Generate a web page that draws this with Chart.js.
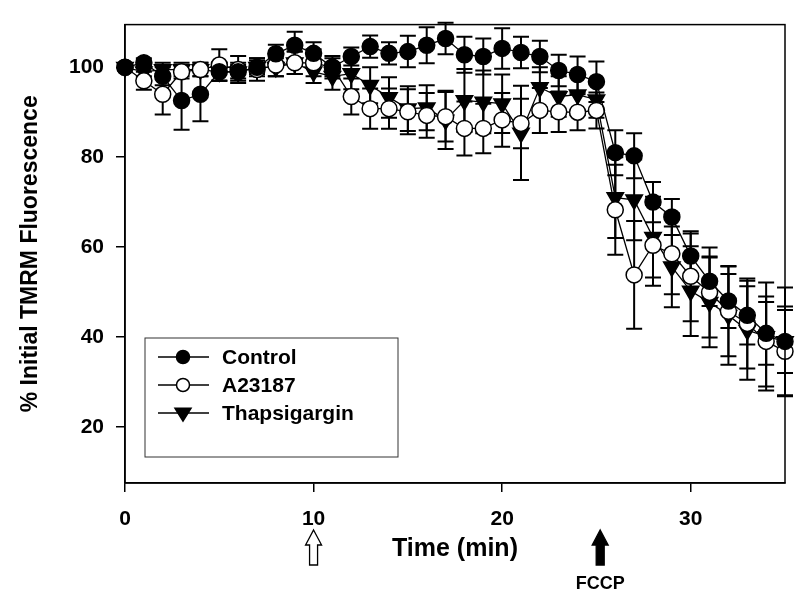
<!DOCTYPE html>
<html>
<head>
<meta charset="utf-8">
<script src="https://cdn.jsdelivr.net/npm/chart.js@4/dist/chart.umd.min.js"></script>
<style>
  body { margin: 0; background: #fff; }
  #wrap { width: 800px; height: 605px; }
</style>
</head>
<body>
<div id="wrap"><canvas id="tmrm-chart" width="800" height="605"></canvas></div>
<script>
const time = [0, 1, 2, 3, 4, 5, 6, 7, 8, 9, 10, 11, 12, 13, 14, 15, 16, 17,
    18, 19, 20, 21, 22, 23, 24, 25, 26, 27, 28, 29, 30, 31, 32, 33, 34, 35];

const control = [100, 101, 98, 92.6, 94, 99, 99, 100, 103, 104.9, 103.1, 100,
    102.4, 104.6, 103.1, 103.5, 104.9, 106.4, 102.8, 102.4, 104.2, 103.3, 102.4,
    99.3, 98.4, 96.8, 81, 80.3, 70, 66.7, 58, 52.4, 48, 44.8, 40.8, 39];
const controlErr = [0, 1, 2, 6.5, 6, 2, 1.5, 1.5, 2, 3, 2.5, 2, 2, 2.5, 2.5, 3.5,
    4, 3.5, 4, 4, 4.5, 3.5, 3.5, 3.5, 4, 4.5, 5, 5, 4.5, 4, 5, 5.5, 6, 6.5, 7, 7];

const a23187 = [100, 97, 94, 99, 99.5, 100.5, 99.5, 99.5, 100.5, 101, 101, 100,
    93.5, 90.8, 90.8, 90.1, 89.3, 89, 86.4, 86.4, 88.3, 87.5, 90.4, 90.1, 90, 90.4,
    68.3, 53.8, 60.4, 58.5, 53.5, 49.9, 45.7, 43, 39, 36.8];
const a23187Err = [0, 2, 4.5, 1.5, 1.5, 3.5, 3, 2.5, 2.5, 2.5, 3, 2.5, 4, 4.5, 4.5,
    5, 5, 5.5, 6, 5.5, 6, 5.5, 5, 4.5, 4, 4, 10, 12, 9, 9, 10, 10, 10, 10, 10, 10];

const thapsigargin = [100, 99, 99.5, 99.5, 99.5, 99, 99, 100, 100, 101, 99, 98,
    98.6, 96, 93.3, 90.8, 91, 88.3, 92.6, 92.3, 91.9, 85.4, 95.5, 93.5, 93.9, 92.8,
    71, 70.5, 62.2, 55.6, 50.2, 47.7, 44.8, 41.5, 40.1, 39];
const thapsigarginErr = [0, 1, 1.5, 1.5, 1.5, 2, 2, 2, 2, 2.5, 2.5, 3, 3.5, 4, 4.5,
    5, 5, 6.5, 7, 7, 6.5, 10.5, 4.5, 4.5, 4.5, 4, 9, 9, 9, 9, 10, 10, 11, 11, 12, 12];

const xTicks = [0, 10, 20, 30];
const yTicks = [20, 40, 60, 80, 100];

// drug additions marked with arrows under the x axis
const additionTimes = [10, 25.2];
const additionLabels = ["", "FCCP"];
const additionFilled = [false, true];

const FONT = "'Liberation Sans', Arial, sans-serif";

function toPoints(values) {
    return values.map((v, i) => ({ x: time[i], y: v }));
}

const errorBars = {
    id: "errorBars",
    beforeDatasetsDraw(chart) {
        const { ctx, scales: { x, y } } = chart;
        ctx.save();
        ctx.strokeStyle = "#000";
        ctx.lineWidth = 2;
        chart.data.datasets.forEach((ds) => {
            ds.data.forEach((p, i) => {
                const e = ds.errors[i];
                if (!e) return;
                const px = x.getPixelForValue(p.x);
                const top = y.getPixelForValue(p.y + e);
                const bot = y.getPixelForValue(p.y - e);
                ctx.beginPath();
                ctx.moveTo(px, top);
                ctx.lineTo(px, bot);
                ctx.moveTo(px - 8, top);
                ctx.lineTo(px + 8, top);
                ctx.moveTo(px - 8, bot);
                ctx.lineTo(px + 8, bot);
                ctx.stroke();
            });
        });
        ctx.restore();
    },
};

const frameAndExtras = {
    id: "frameAndExtras",
    afterDraw(chart) {
        const { ctx, chartArea: a, scales: { x } } = chart;
        ctx.save();
        ctx.strokeStyle = "#000";
        ctx.lineWidth = 1.5;
        ctx.strokeRect(a.left, a.top, a.right - a.left, a.bottom - a.top);

        // legend box
        const lx = 145, ly = 338, lw = 253, lh = 119;
        ctx.lineWidth = 1;
        ctx.strokeStyle = "#333";
        ctx.fillStyle = "#fff";
        ctx.fillRect(lx, ly, lw, lh);
        ctx.strokeRect(lx, ly, lw, lh);
        chart.data.datasets.forEach((ds, i) => {
            const cy = ly + 19 + i * 28;
            ctx.strokeStyle = "#000";
            ctx.lineWidth = 1.5;
            ctx.beginPath();
            ctx.moveTo(lx + 13, cy);
            ctx.lineTo(lx + 64, cy);
            ctx.stroke();
            ctx.fillStyle = ds.pointBackgroundColor;
            ctx.beginPath();
            if (ds.pointStyle === "circle") {
                ctx.arc(lx + 38, cy, 6.5, 0, Math.PI * 2);
            } else {
                const r = 8;
                ctx.moveTo(lx + 38 - r, cy - r * 0.6);
                ctx.lineTo(lx + 38 + r, cy - r * 0.6);
                ctx.lineTo(lx + 38, cy + r);
                ctx.closePath();
            }
            ctx.fill();
            ctx.stroke();
            ctx.fillStyle = "#000";
            ctx.font = "bold 21px " + FONT;
            ctx.textBaseline = "middle";
            ctx.textAlign = "left";
            ctx.fillText(ds.label, lx + 77, cy + 1);
        });

        // arrows for additions
        additionTimes.forEach((t, i) => {
            const px = x.getPixelForValue(t);
            const tip = 530, neck = 545, base = 565;
            ctx.beginPath();
            ctx.moveTo(px, tip);
            ctx.lineTo(px + 8, neck);
            ctx.lineTo(px + 4, neck);
            ctx.lineTo(px + 4, base);
            ctx.lineTo(px - 4, base);
            ctx.lineTo(px - 4, neck);
            ctx.lineTo(px - 8, neck);
            ctx.closePath();
            ctx.lineWidth = 1.3;
            ctx.strokeStyle = "#000";
            if (additionFilled[i]) {
                ctx.fillStyle = "#000";
                ctx.fill();
            }
            ctx.stroke();
            if (additionLabels[i]) {
                ctx.fillStyle = "#000";
                ctx.font = "bold 18px " + FONT;
                ctx.textAlign = "center";
                ctx.textBaseline = "middle";
                ctx.fillText(additionLabels[i], px, base + 19);
            }
        });
        ctx.restore();
    },
};

const common = {
    borderColor: "#000",
    borderWidth: 1.3,
    pointBorderColor: "#000",
    pointBorderWidth: 1.5,
    pointRadius: 8,
    pointHoverRadius: 8,
    tension: 0,
    clip: false,
};

new Chart(document.getElementById("tmrm-chart"), {
    type: "line",
    data: {
        datasets: [
            {
                ...common,
                label: "Control",
                data: toPoints(control),
                errors: controlErr,
                pointStyle: "circle",
                pointBackgroundColor: "#000",
            },
            {
                ...common,
                label: "A23187",
                data: toPoints(a23187),
                errors: a23187Err,
                pointStyle: "circle",
                pointBackgroundColor: "#fff",
            },
            {
                ...common,
                label: "Thapsigargin",
                data: toPoints(thapsigargin),
                errors: thapsigarginErr,
                pointStyle: "triangle",
                pointRotation: 180,
                pointRadius: 9.5,
                pointHoverRadius: 9.5,
                pointBackgroundColor: "#000",
            },
        ],
    },
    options: {
        responsive: false,
        animation: false,
        events: [],
        layout: { padding: { left: 0, right: 15, top: 13, bottom: 0 } },
        plugins: { legend: { display: false }, tooltip: { enabled: false } },
        scales: {
            x: {
                type: "linear",
                min: 0,
                max: 35,
                afterBuildTicks: (s) => { s.ticks = xTicks.map((v) => ({ value: v })); },
                afterFit: (s) => { s.height = 122; },
                grid: { drawOnChartArea: false, drawTicks: true, tickLength: 9, color: "#000", lineWidth: 1.5 },
                border: { display: true, color: "#000", width: 1.5 },
                ticks: { color: "#000", padding: 15, font: { family: FONT, size: 21, weight: "bold" } },
                title: {
                    display: true,
                    text: "Time (min)",
                    color: "#000",
                    font: { family: FONT, size: 25, weight: "bold" },
                    padding: { top: 0, bottom: 41 },
                },
            },
            y: {
                type: "linear",
                min: 7.5,
                max: 109.5,
                afterBuildTicks: (s) => { s.ticks = yTicks.map((v) => ({ value: v })); },
                afterFit: (s) => { s.width = 125; },
                grid: { drawOnChartArea: false, drawTicks: true, tickLength: 9, color: "#000", lineWidth: 1.5 },
                border: { display: true, color: "#000", width: 1.5 },
                ticks: { color: "#000", padding: 12, font: { family: FONT, size: 21, weight: "bold" } },
                title: {
                    display: true,
                    text: "% Initial TMRM Fluorescence",
                    color: "#000",
                    font: { family: FONT, size: 23, weight: "bold" },
                    padding: { top: 17, bottom: 0 },
                },
            },
        },
    },
    plugins: [errorBars, frameAndExtras],
});
</script>
</body>
</html>
